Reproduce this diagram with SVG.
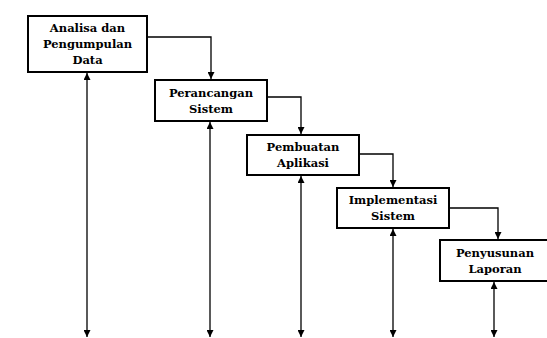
<svg xmlns="http://www.w3.org/2000/svg" width="547" height="338" viewBox="0 0 547 338">
<style>
.box{fill:#fff;stroke:#000;stroke-width:2}
.lbl{font-family:"DejaVu Serif","Liberation Serif",serif;font-weight:bold;font-size:11.5px;fill:#000;text-anchor:middle}
.con{fill:none;stroke:#000;stroke-width:1.3}
</style>
<defs>
<marker id="ah" viewBox="0 0 8 8" refX="8" refY="4" markerWidth="7" markerHeight="7" markerUnits="userSpaceOnUse" orient="auto-start-reverse">
<path d="M0,0 L8,4 L0,8 Z" fill="#000"/>
</marker>
</defs>
<rect width="547" height="338" fill="#fff"/>
<g id="connectors">
<path class="con" d="M147,37 H211 V79" marker-end="url(#ah)"/>
<path class="con" d="M267,97 H301 V134" marker-end="url(#ah)"/>
<path class="con" d="M359,154 H393 V187" marker-end="url(#ah)"/>
<path class="con" d="M449,208 H498 V239" marker-end="url(#ah)"/>
<path class="con" d="M87,73 V337" marker-start="url(#ah)" marker-end="url(#ah)"/>
<path class="con" d="M210,122 V337" marker-start="url(#ah)" marker-end="url(#ah)"/>
<path class="con" d="M301,176 V337" marker-start="url(#ah)" marker-end="url(#ah)"/>
<path class="con" d="M393,229 V337" marker-start="url(#ah)" marker-end="url(#ah)"/>
<path class="con" d="M494,282 V337" marker-start="url(#ah)" marker-end="url(#ah)"/>
</g>
<g id="n1">
<rect class="box" x="28" y="16" width="119" height="56"/>
<text class="lbl" x="87.5" y="32">Analisa dan</text>
<text class="lbl" x="87.5" y="48">Pengumpulan</text>
<text class="lbl" x="87.5" y="64">Data</text>
</g>
<g id="n2">
<rect class="box" x="155" y="80" width="112" height="41"/>
<text class="lbl" x="211" y="97">Perancangan</text>
<text class="lbl" x="211" y="113">Sistem</text>
</g>
<g id="n3">
<rect class="box" x="247" y="135" width="112" height="40"/>
<text class="lbl" x="303" y="151">Pembuatan</text>
<text class="lbl" x="303" y="167">Aplikasi</text>
</g>
<g id="n4">
<rect class="box" x="337" y="188" width="112" height="40"/>
<text class="lbl" x="393" y="204">Implementasi</text>
<text class="lbl" x="393" y="220">Sistem</text>
</g>
<g id="n5">
<rect class="box" x="440" y="240" width="112" height="41"/>
<text class="lbl" x="495" y="257">Penyusunan</text>
<text class="lbl" x="495" y="273">Laporan</text>
</g>
</svg>
